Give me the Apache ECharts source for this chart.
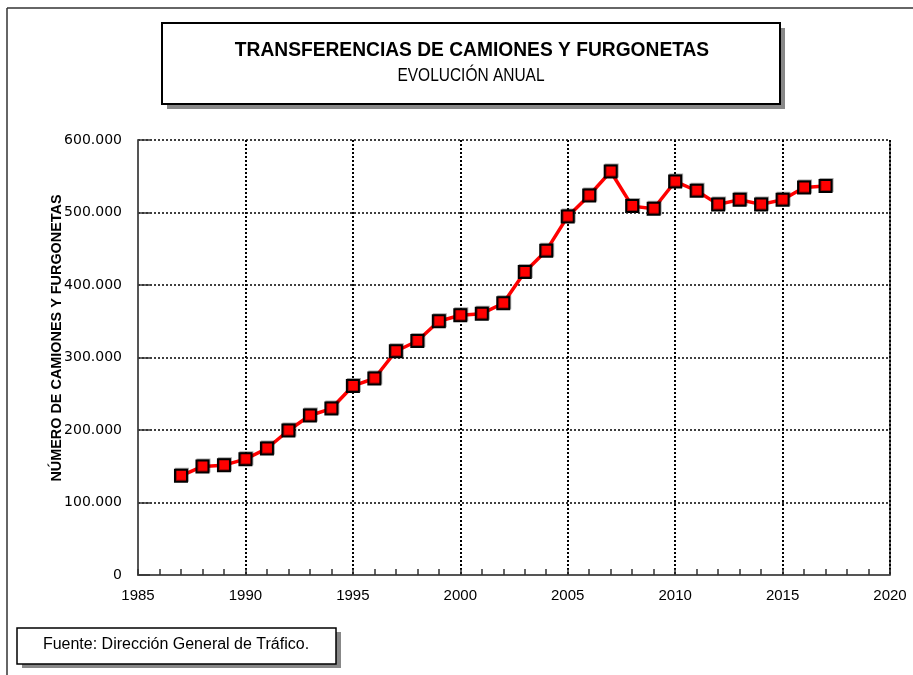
<!DOCTYPE html>
<html>
<head>
<meta charset="utf-8">
<script src="https://cdn.jsdelivr.net/npm/echarts@6/dist/echarts.min.js"></script>
<style>
html,body{margin:0;padding:0;background:#fff;}
#chart{width:913px;height:675px;}
</style>
</head>
<body>
<div id="chart"></div>
<script>
var years = [1987,1988,1989,1990,1991,1992,1993,1994,1995,1996,1997,1998,1999,2000,2001,2002,2003,2004,2005,2006,2007,2008,2009,2010,2011,2012,2013,2014,2015,2016,2017];
var transferencias = [136800,149800,151500,159800,174500,199300,220000,229600,260800,271000,308600,322800,350000,358200,360500,374800,417900,447400,494600,523600,556600,508800,505200,542800,530000,511200,517600,511200,517600,534600,536400];
var titleText = 'TRANSFERENCIAS DE CAMIONES Y FURGONETAS';
var subtitleText = 'EVOLUCIÓN ANUAL';
var yAxisName = 'NÚMERO DE CAMIONES Y FURGONETAS';
var sourceText = 'Fuente: Dirección General de Tráfico.';

var FONT = '"Liberation Sans", Arial, sans-serif';
var chart = echarts.init(document.getElementById('chart'), null, {renderer:'canvas'});

var points = years.map(function(y,i){ return [y, transferencias[i]]; });

function fmt(v){
  return String(v).replace(/\B(?=(\d{3})+(?!\d))/g, '.');
}

var option = {
  backgroundColor: '#fff',
  animation: false,
  grid: {left: 138, right: 23, top: 140, bottom: 100, containLabel: false},
  xAxis: {
    type: 'value', min: 1985, max: 2020, interval: 5,
    axisLine: {show: true, onZero: false, lineStyle: {color: '#555', width: 2}},
    axisTick: {show: true, inside: true, length: 6, lineStyle: {color: '#333', width: 1.5}},
    minorTick: {show: true, splitNumber: 5, length: 6, lineStyle: {color: '#333', width: 1.5}},
    axisLabel: {color: '#000', fontFamily: FONT, fontSize: 15, margin: 13, formatter: function(v){return String(v);}},
    splitLine: {show: true, lineStyle: {color: '#000', width: 2, type: [2,2]}}
  },
  yAxis: {
    type: 'value', min: 0, max: 600000, interval: 100000,
    axisLine: {show: true, lineStyle: {color: '#555', width: 2}},
    axisTick: {show: true, inside: true, length: 12, lineStyle: {color: '#333', width: 1.5}},
    axisLabel: {color: '#000', fontFamily: '"DejaVu Sans", sans-serif', fontSize: 14, margin: 16, formatter: fmt},
    splitLine: {show: true, lineStyle: {color: '#000', width: 1.5, type: [2,2]}}
  },
  series: [{
    type: 'line',
    data: points,
    symbol: 'rect',
    symbolSize: 12,
    lineStyle: {color: '#ff0000', width: 3.5},
    itemStyle: {color: '#ff0000', borderColor: '#000', borderWidth: 2, shadowColor: 'rgba(0,0,0,0.35)', shadowOffsetX: 1, shadowOffsetY: -1},
    z: 5
  }],
  graphic: [
    // outer frame
    {type: 'line', shape: {x1: 7, y1: 8, x2: 913, y2: 8}, style: {stroke: '#333', lineWidth: 1.5}, silent: true},
    {type: 'line', shape: {x1: 7, y1: 8, x2: 7, y2: 675}, style: {stroke: '#333', lineWidth: 1.5}, silent: true},
    // right border of plot
    {type: 'line', shape: {x1: 890, y1: 140, x2: 890, y2: 575}, style: {stroke: '#666', lineWidth: 2}, silent: true},
    // y axis name
    {type: 'text', x: 57, y: 338, rotation: Math.PI / 2, scaleX: 0.93,
     style: {text: yAxisName, fill: '#000', font: 'bold 15.5px ' + FONT, align: 'center', verticalAlign: 'middle'}, silent: true},
    // title box shadow + box
    {type: 'rect', shape: {x: 167, y: 28, width: 618, height: 81}, style: {fill: '#888'}, silent: true},
    {type: 'rect', shape: {x: 162, y: 23, width: 618, height: 81}, style: {fill: '#fff', stroke: '#000', lineWidth: 2}, silent: true},
    {type: 'text', x: 472, y: 50, scaleX: 0.96, style: {text: titleText, fill: '#000', font: 'bold 20px ' + FONT, align: 'center', verticalAlign: 'middle'}, silent: true},
    {type: 'text', x: 471, y: 76, scaleX: 0.86, style: {text: subtitleText, fill: '#000', font: '18px ' + FONT, align: 'center', verticalAlign: 'middle'}, silent: true},
    // footer box
    {type: 'rect', shape: {x: 22, y: 632, width: 319, height: 36}, style: {fill: '#888'}, silent: true},
    {type: 'rect', shape: {x: 17, y: 628, width: 319, height: 36}, style: {fill: '#fff', stroke: '#000', lineWidth: 1.5}, silent: true},
    {type: 'text', x: 176, y: 645, style: {text: sourceText, fill: '#000', font: '16px ' + FONT, align: 'center', verticalAlign: 'middle'}, silent: true}
  ]
};
chart.setOption(option);
</script>
</body>
</html>
